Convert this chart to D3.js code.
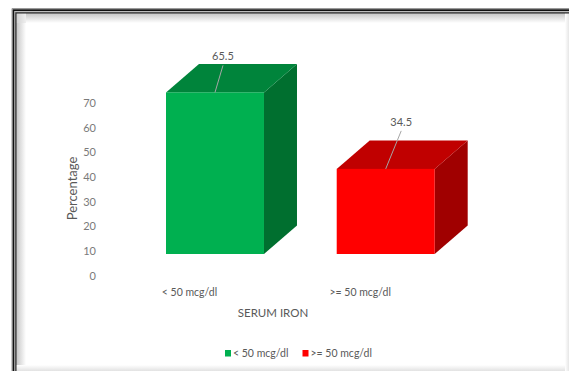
<!DOCTYPE html>
<html>
<head>
<meta charset="utf-8">
<script src="https://cdn.jsdelivr.net/npm/d3@7"></script>
<style>
  html, body { margin: 0; padding: 0; background: #ffffff; }
  svg { display: block; }
  text { font-family: Lato, "Open Sans", sans-serif; }
</style>
</head>
<body>
<svg id="chart" width="569" height="371"></svg>
<script>
// ---- data ----
const categories = ["< 50 mcg/dl", ">= 50 mcg/dl"];
const values = [65.5, 34.5];
const yTicks = [0, 10, 20, 30, 40, 50, 60, 70];
const xTitle = "SERUM IRON";
const yTitle = "Percentage";

// ---- styles ----
const frontColors = ["#00b050", "#ff0000"];
const topColors = ["#00843b", "#c00000"];
const sideColors = ["#006f2f", "#a00000"];
const labelNudge = [[8, -36], [15.5, -47]]; // layout of data labels (dx, dy from front-top centre)

const W = 569, H = 371;
const svg = d3.select("#chart");

// ---- frame ----
const defs = svg.append("defs");
function grad(id, x2, y2, c0, c1) {
  const g = defs.append("linearGradient").attr("id", id).attr("x1", 0).attr("y1", 0).attr("x2", x2).attr("y2", y2);
  g.append("stop").attr("offset", 0).attr("stop-color", c0);
  g.append("stop").attr("offset", 1).attr("stop-color", c1);
}
grad("shTop", 0, 1, "#c4c4c4", "#ffffff");
grad("shLeft", 1, 0, "#c4c4c4", "#ffffff");
grad("shBot", 0, 1, "#ffffff", "#e2e2e2");
grad("shRight", 1, 0, "#ffffff", "#e6e6e6");

svg.append("rect").attr("x", 16).attr("y", 13).attr("width", W).attr("height", 10).attr("fill", "url(#shTop)");
svg.append("rect").attr("x", 16).attr("y", 13).attr("width", 10).attr("height", H).attr("fill", "url(#shLeft)");
svg.append("rect").attr("x", 16).attr("y", 365).attr("width", W).attr("height", 6).attr("fill", "url(#shBot)");
svg.append("rect").attr("x", 565).attr("y", 13).attr("width", 4).attr("height", H).attr("fill", "url(#shRight)");
svg.append("rect").attr("x", 16).attr("y", 13).attr("width", 10).attr("height", 10).attr("fill", "#dedede").attr("opacity", 0.5);

// double black line with grey halo
svg.append("path").attr("d", `M12,${H + 5} L12,8.5 L${W + 5},8.5`).attr("fill", "none").attr("stroke", "#9a9a9a").attr("stroke-width", 1);
svg.append("path").attr("d", `M13.5,${H + 5} L13.5,10.2 L${W + 5},10.2`).attr("fill", "none").attr("stroke", "#111").attr("stroke-width", 1.8);
svg.append("path").attr("d", `M15,${H + 5} L15,11.8 L${W + 5},11.8`).attr("fill", "none").attr("stroke", "#8a8a8a").attr("stroke-width", 0.8);
svg.append("path").attr("d", `M15.9,${H + 5} L15.9,12.8 L${W + 5},12.8`).attr("fill", "none").attr("stroke", "#222").attr("stroke-width", 1.2);

// ---- scales ----
const x = d3.scaleBand().domain(categories).range([166, 434.7]).paddingInner(0.426).paddingOuter(0);
const y = d3.scaleLinear().domain([0, 70]).range([275.5, 102.8]);
const depthX = 33, depthY = 28.5, floorShift = 21.5;

// ---- y axis labels ----
const yAxis = d3.axisLeft(y).tickValues(yTicks).tickSize(0).tickPadding(0).tickFormat(d3.format("d"));
const ya = svg.append("g").attr("transform", "translate(96,0)").call(yAxis);
ya.select(".domain").remove();
ya.selectAll("text").attr("fill", "#7a7a7a").style("font-size", "11px").style("font-family", "Lato, sans-serif");

// ---- bars ----
const bars = svg.append("g").selectAll("g").data(categories).join("g");
bars.each(function (c, i) {
  const g = d3.select(this);
  const x0 = x(c), x1 = x0 + x.bandwidth();
  const top = y(values[i]) - floorShift;
  const bot = y(0) - floorShift;
  g.append("path")
    .attr("d", `M${x1},${top} L${x1 + depthX},${top - depthY} L${x1 + depthX},${bot - depthY} L${x1},${bot} Z`)
    .attr("fill", sideColors[i]);
  g.append("path")
    .attr("d", `M${x0},${top} L${x0 + depthX},${top - depthY} L${x1 + depthX},${top - depthY} L${x1},${top} Z`)
    .attr("fill", topColors[i]);
  g.append("rect").attr("x", x0).attr("y", top).attr("width", x.bandwidth()).attr("height", bot - top)
    .attr("fill", frontColors[i]);
  const cx = x0 + x.bandwidth() / 2;
  const lx = cx + labelNudge[i][0], ly = top + labelNudge[i][1];
  g.append("line").attr("x1", cx).attr("y1", top).attr("x2", lx).attr("y2", ly + 9)
    .attr("stroke", "#a6a6a6").attr("stroke-width", 1);
  g.append("text").attr("x", lx).attr("y", ly).attr("dy", "0.35em").attr("text-anchor", "middle")
    .attr("fill", "#595959").style("font-size", "11px").text(values[i]);
});

// ---- category labels ----
svg.append("g").selectAll("text").data(categories).join("text")
  .attr("x", d => x(d) + x.bandwidth() / 2 - 25.5).attr("y", 296).attr("text-anchor", "middle")
  .attr("fill", "#595959").style("font-size", "10.5px").text(d => d);

// ---- axis titles ----
svg.append("text").attr("x", 273).attr("y", 317).attr("text-anchor", "middle")
  .attr("fill", "#595959").style("font-size", "11.5px").text(xTitle);
svg.append("text").attr("transform", "translate(77,188.5) rotate(-90)").attr("text-anchor", "middle")
  .attr("fill", "#595959").style("font-size", "13px").text(yTitle);

// ---- legend ----
const legX = [225, 302.5];
const leg = svg.append("g").selectAll("g").data(categories).join("g")
  .attr("transform", (d, i) => `translate(${legX[i]},350)`);
leg.append("rect").attr("width", 6).attr("height", 6.5).attr("fill", (d, i) => frontColors[i]);
leg.append("text").attr("x", 8).attr("y", 3.3).attr("dy", "0.35em")
  .attr("fill", "#595959").style("font-size", "10.5px").text(d => d);
</script>
</body>
</html>
